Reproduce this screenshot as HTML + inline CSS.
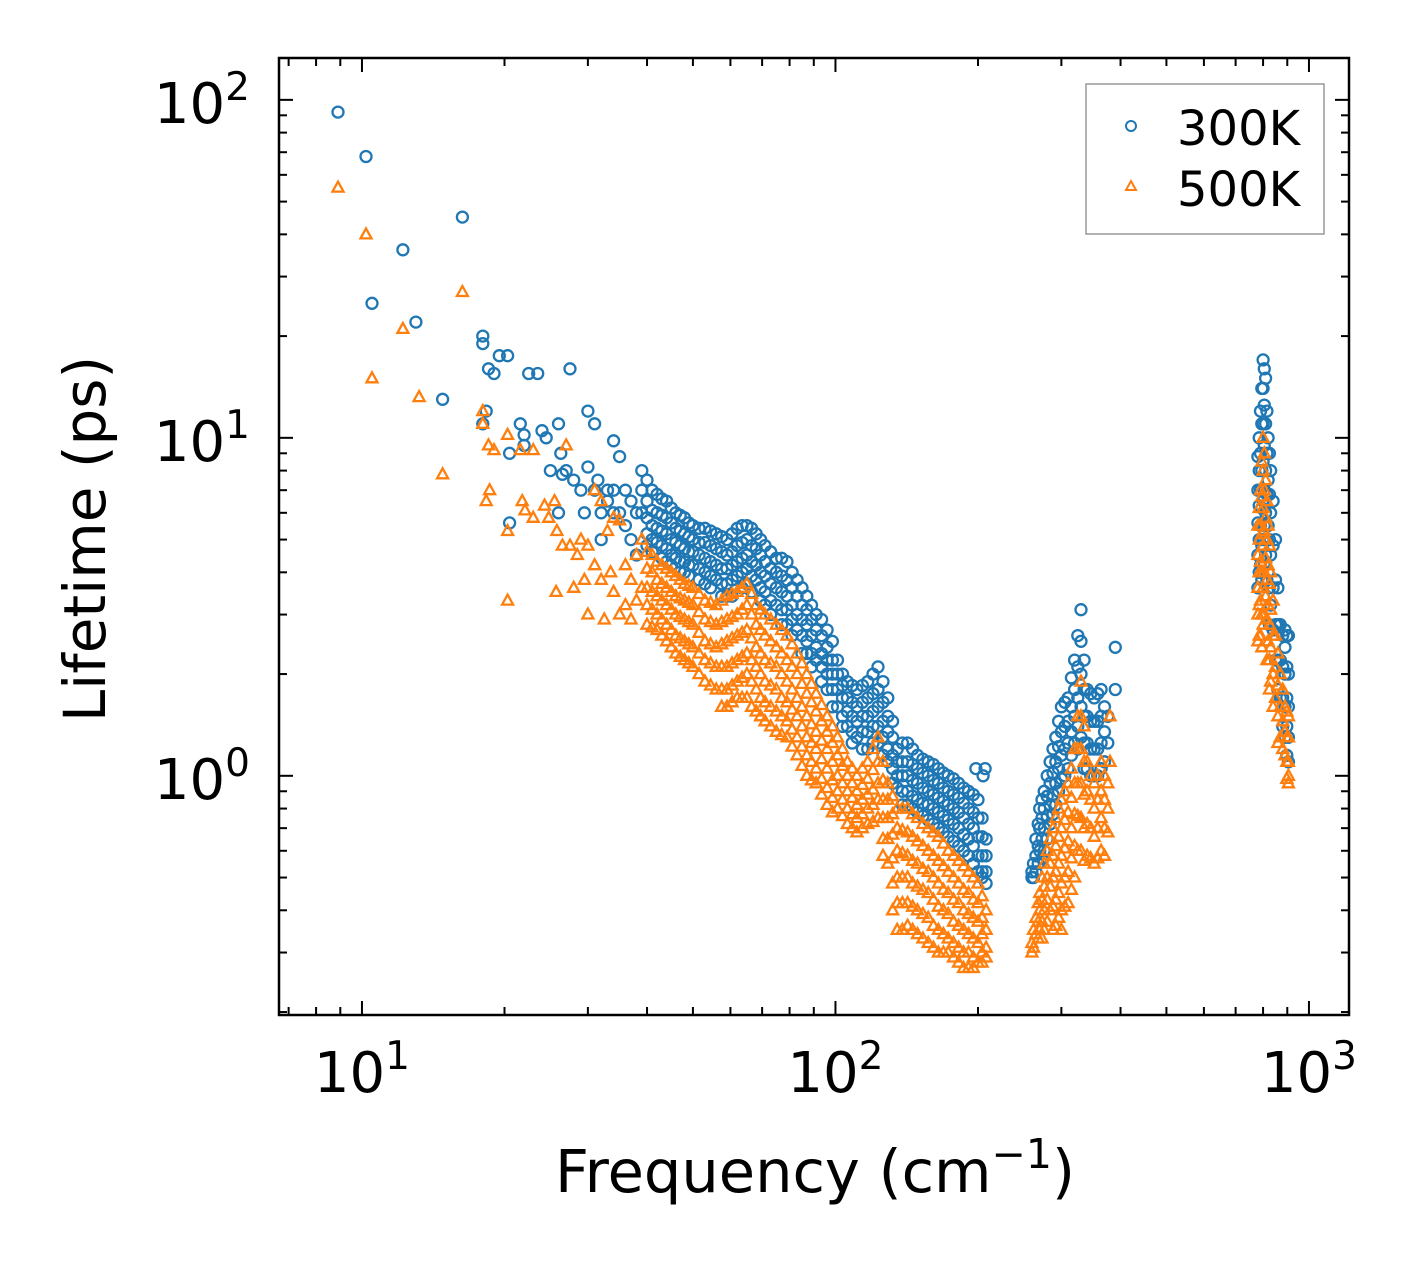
<!DOCTYPE html>
<html><head><meta charset="utf-8"><style>
html,body{margin:0;padding:0;background:#fff;}
svg{display:block;font-family:"DejaVu Sans","Liberation Sans",sans-serif;}
</style></head><body>
<svg id="chart" width="1417" height="1265" viewBox="0 0 1417 1265" xmlns="http://www.w3.org/2000/svg">
<rect x="0" y="0" width="1417" height="1265" fill="#fff"/>
<g id="marks"></g>
<g id="ticks"></g>
<rect x="279" y="58" width="1070" height="957" fill="none" stroke="#000" stroke-width="2.5"/>
<g id="labels" font-size="56" fill="#000"></g>
<text x="815" y="1192" font-size="59" text-anchor="middle">Frequency (cm<tspan dy="-24" font-size="41">−1</tspan><tspan dy="24">)</tspan></text>
<text transform="translate(105,539) rotate(-90)" font-size="58" text-anchor="middle">Lifetime (ps)</text>
<g>
<rect x="1086" y="84" width="238" height="150" fill="#fff" stroke="#999" stroke-width="1.5"/>
<circle cx="1131" cy="126" r="5" fill="none" stroke="#1f77b4" stroke-width="2"/>
<text x="1177" y="145" font-size="48">300K</text>
<path d="M1131,181 L1136,190 L1126,190 Z" fill="none" stroke="#ff7f0e" stroke-width="2"/>
<text x="1177" y="206" font-size="48">500K</text>
</g>
</svg>
<script>
// ---- data (frequency cm^-1, lifetimes ps) ----
const blueSparseFreq = [8.9,10.2,10.5,12.2,13,14.8,16.3,18,18,18.5,18,18.3,19,20.3,20.5,20.5,21.6,22,22.5,23.5,22,24,24.5,25,26,26.3,26.5,26,27.5,27,28,29,29.5,30,30,31,31,31.5,32,32,33,33,34,34,34,35,35,36,36,37,38,38,39,39,39,37,19.5,207,205,198];
const blueSparseLife = [92,68,25,36,22,13,45,20,19,16,11,12,15.5,17.5,9,5.6,11,10.2,15.5,15.5,9.5,10.5,10,8,11,9,7.8,6,16,8,7.5,7,6,12,8.2,11,7,7.5,6,5,7,6.5,7,6,9.8,8.8,6,7,5.5,6.5,6,4.5,8,7,6,5,17.5,1.05,1.0,1.05];
const blueColFreq = [40,42,44,46,48,50,53,56,59,62,65,68,71,75,79,83,87,91,96,101,106,111,117,123,129,135,142,149,157,165,173,182,191,200,208,
 260,265,270,276,284,292,300,310,320,330,340,352,364,376,390,
 780,790,800,810,820,830,850,870,890,905,
 41,43,45,47,49,51.5,54.5,57.5,60.5,63.5,66.5,69.5,73,77,81,85,89,93.5,98.5,103.5,108.5,114,120,126,132,138.5,145.5,153,161,169,177.5,186.5,195.5,204,
 262,268,273,280,288,296,305,315,325,335,346,358,370,
 785,795,805,815,825,840,860,880,898];
const blueColLife = [[7.5,6.5,5.8,5.2,4.8],[6.8,6,5.4,4.9],[6.5,5.8,5.2,4.7,4.3],[6,5.4,4.9,4.4],[5.8,5.2,4.7,4.3,4],[5.5,5,4.6,4.2],[5.4,4.9,4.4,4,3.7],[5.2,4.7,4.2,3.8],[5,4.5,4.1,3.7,3.4],[5.4,4.8,4.3,3.9],[5.5,5,4.5,4.1,3.7],[5.2,4.7,4.2,3.8],[4.8,4.3,3.9,3.5,3.2],[4.4,4,3.6,3.2],[4.3,3.8,3.4,3.1,2.8],[3.8,3.4,3,2.7],[3.4,3.1,2.8,2.5,2.3],[3,2.7,2.4,2.2],[2.7,2.4,2.2,2,1.8],[2.2,2,1.8,1.6],[1.9,1.7,1.55,1.4],[1.8,1.6,1.45,1.3],[1.9,1.7,1.5,1.35,1.2],[2.1,1.8,1.6,1.4,1.25],[1.7,1.5,1.35,1.2,1.1],[1.2,1.1,1.0,0.92],[1.25,1.1,1.0,0.9,0.82],[1.15,1.05,0.95,0.85,0.78],[1.1,1.0,0.9,0.82,0.74],[1.05,0.95,0.86,0.78,0.7],[1.0,0.9,0.82,0.74,0.66],[0.95,0.86,0.78,0.7,0.62],[0.9,0.8,0.72,0.65,0.58],[0.85,0.75,0.66,0.58,0.52],[0.65,0.58,0.52,0.48],
 [0.52,0.5],[0.65,0.58,0.52],[0.8,0.7,0.6],[0.9,0.8,0.7,0.6],[1.1,0.95,0.82,0.72],[1.3,1.1,0.95,0.82],[1.6,1.35,1.15,0.98],[1.7,1.45,1.25,1.05],[2.2,1.8,1.5,1.25],[3.1,2.5,2,1.6,1.3],[1.8,1.5,1.25,1.05],[1.7,1.45,1.2,1.0],[1.8,1.5,1.25,1.05],[1.5,1.25],[2.4,1.8],
 [8.8,7,5.6,4.5,3.6],[12,9,7,5.5,4.2],[17,14,11,8.5,6.5,5],[15,11,8,6,4.5],[10,7.5,5.5,4],[8,6,4.5,3.2],[5,3.8,2.8,2.2],[2.8,2.2,1.7],[2.7,2.4,2,1.6,1.3],[2.6,2,1.6,1.3,1.1],
 [7,6.1,5.5,5,4.6],[6.6,5.9,5.3,4.8,4.4],[6.2,5.6,5.0,4.5,4.2],[5.9,5.3,4.8,4.3,4.0],[5.6,5.1,4.6,4.2,3.9],[5.4,4.9,4.5,4.1,3.8],[5.3,4.8,4.3,3.9,3.6],[5.1,4.6,4.1,3.7,3.4],[5.2,4.6,4.2,3.8,3.4],[5.5,4.9,4.4,4.0,3.6],[5.4,4.8,4.3,3.9,3.5],[5.0,4.5,4.0,3.6,3.3],[4.6,4.1,3.7,3.3,3.0],[4.4,3.9,3.5,3.1,2.8],[4.0,3.6,3.2,2.9,2.6],[3.6,3.2,2.9,2.6,2.3],[3.2,2.9,2.6,2.3,2.1],[2.9,2.6,2.3,2.1,1.9],[2.5,2.2,2.0,1.8,1.6],[2.0,1.85,1.7,1.5,1.4],[1.85,1.65,1.5,1.35,1.25],[1.85,1.65,1.5,1.35,1.2],[2.0,1.75,1.55,1.4,1.25],[1.9,1.65,1.45,1.3,1.15],[1.45,1.3,1.15,1.05,0.95],[1.25,1.1,1.0,0.9,0.82],[1.2,1.08,0.97,0.87,0.8],[1.12,1.02,0.92,0.83,0.76],[1.08,0.97,0.88,0.8,0.72],[1.02,0.92,0.84,0.76,0.68],[0.98,0.88,0.8,0.72,0.64],[0.92,0.83,0.75,0.67,0.6],[0.88,0.78,0.7,0.62,0.55],[0.75,0.66,0.58,0.52,0.5],
 [0.55,0.5],[0.72,0.62,0.55],[0.85,0.75,0.65,0.57],[1.0,0.87,0.76,0.65],[1.2,1.02,0.88,0.77],[1.45,1.22,1.05,0.9],[1.65,1.4,1.2,1.0],[1.95,1.6,1.35,1.15],[2.6,2.1,1.7,1.4,1.2],[2.2,1.8,1.5,1.25,1.05],[1.75,1.45,1.2,1.0],[1.75,1.45,1.2,1.0],[1.6,1.35,1.1],
 [10,8,6.3,5,4],[14,11,8,6.2,4.8,3.8],[16,12.5,9.5,7,5.5,4.2],[12,9,6.8,5,3.8],[9,6.8,5,3.6,2.8],[6.5,4.8,3.6,2.7],[3.6,2.8,2.2,1.8],[2.6,2.1,1.7,1.4],[2.6,2.1,1.7,1.4,1.15]];
const orangeSparseFreq = [8.9,10.2,10.5,12.2,13.2,14.8,16.3,18,18,18.5,18.6,18.3,19,20.3,20.3,20.3,21.6,21.8,22.1,23,23,24.3,24.8,25.5,25.8,25.7,26.5,27,27.5,28,28.5,29,29.5,30,30,31,31,32,32,32.5,33,33.5,34,34,35,35,36,36,37,37,38,38,39,39];
const orangeSparseLife = [55,40,15,21,13.2,7.8,27,12,11,9.5,7,6.5,9.2,10.2,5.3,3.3,9.2,6.5,6.1,9.2,5.8,6.3,5.8,6.5,5.3,3.5,4.8,9.5,4.8,3.6,4.5,5,3.8,4.8,3,7,4.2,6.5,3.8,2.9,5.3,4,3.5,5.8,5.7,3,4.2,3.2,3.8,2.9,4.5,3.3,5,3.6];
const orangeColFreq = [40,42,44,46,48,50,53,56,59,62,65,68,71,75,79,83,87,91,96,101,106,111,117,123,129,135,142,149,157,165,173,182,191,200,208,
 260,265,270,276,284,292,300,310,320,330,340,352,364,376,380,
 780,790,800,810,820,830,850,870,890,905,
 41,43,45,47,49,51.5,54.5,57.5,60.5,63.5,66.5,69.5,73,77,81,85,89,93.5,98.5,103.5,108.5,114,120,126,132,138.5,145.5,153,161,169,177.5,186.5,195.5,204,
 262,268,273,280,288,296,305,315,325,335,346,358,370,
 785,795,805,815,825,840,860,880,898];
const orangeColLife = [[4.6,4.1,3.6,3.2,2.8],[4.3,3.8,3.4,3.0,2.7],[4.1,3.6,3.2,2.8,2.5],[3.9,3.4,3.0,2.6,2.3],[3.7,3.3,2.9,2.5,2.2],[3.6,3.2,2.8,2.4,2.1],[3.3,2.9,2.5,2.2,1.9],[3.2,2.8,2.4,2.1,1.8],[3.4,2.9,2.5,2.1,1.8,1.6],[3.5,3.0,2.6,2.2,1.9,1.7],[3.7,3.2,2.7,2.3,2.0,1.7],[3.2,2.8,2.4,2.1,1.8,1.55],[3.0,2.6,2.2,1.9,1.65,1.45],[2.8,2.4,2.1,1.8,1.55,1.35],[2.6,2.2,1.9,1.65,1.45,1.3],[2.3,2.0,1.7,1.5,1.3,1.15],[2.0,1.75,1.5,1.3,1.15,1.0],[1.75,1.55,1.35,1.2,1.05,0.95],[1.5,1.35,1.2,1.05,0.92,0.82],[1.3,1.15,1.0,0.9,0.8],[1.1,1.0,0.9,0.8,0.72],[1.0,0.9,0.82,0.75,0.68],[1.1,0.98,0.88,0.8,0.72],[1.3,1.1,0.95,0.85,0.75],[0.95,0.85,0.75,0.65,0.55],[0.8,0.7,0.6,0.5,0.42,0.35],[0.8,0.68,0.58,0.5,0.42,0.36],[0.75,0.64,0.55,0.47,0.4,0.34],[0.7,0.6,0.52,0.45,0.38,0.32],[0.66,0.56,0.48,0.41,0.35,0.3],[0.6,0.52,0.45,0.39,0.33,0.3],[0.56,0.48,0.42,0.36,0.31,0.28],[0.52,0.45,0.39,0.34,0.3,0.27],[0.48,0.42,0.37,0.32,0.28],[0.4,0.35,0.31,0.29],
 [0.32,0.3],[0.38,0.34],[0.45,0.4,0.35],[0.55,0.47,0.4,0.35],[0.65,0.55,0.47,0.4],[0.75,0.62,0.52,0.43,0.36],[0.85,0.7,0.58,0.48,0.4,0.35],[0.95,0.78,0.64,0.52,0.42],[1.2,0.95,0.77,0.62,0.5],[1.9,1.5,1.2,0.95,0.75,0.6],[1.1,0.9,0.72,0.58],[0.95,0.8,0.66,0.55],[1.1,0.9,0.75,0.6],[0.95,0.8,0.68],[1.5,1.1],
 [5.5,4.5,3.6,3.0,2.5],[7,5.5,4.3,3.3,2.6],[10,8,6.2,4.8,3.6,2.8],[7.5,5.8,4.4,3.4],[5.5,4.2,3.2,2.5],[4,3.1,2.4,1.9],[2.6,2.1,1.7],[2.0,1.6,1.3],[1.6,1.35,1.15],[1.5,1.3,1.1,1.0,0.95],
 [4.5,4.0,3.5,3.1,2.75],[4.2,3.7,3.3,2.9,2.6],[4.0,3.5,3.1,2.7,2.4],[3.8,3.35,2.95,2.55,2.25],[3.65,3.25,2.85,2.45,2.15],[3.45,3.05,2.65,2.3,2.0],[3.25,2.85,2.45,2.15,1.85],[3.3,2.85,2.45,2.1,1.8,1.6],[3.45,2.95,2.55,2.15,1.85,1.65],[3.6,3.1,2.65,2.25,1.95,1.7],[3.45,3.0,2.55,2.2,1.9,1.6],[3.1,2.7,2.3,2.0,1.7,1.5],[2.9,2.5,2.15,1.85,1.6,1.4],[2.7,2.3,2.0,1.7,1.5,1.32],[2.45,2.1,1.8,1.57,1.37,1.22],[2.15,1.87,1.6,1.4,1.22,1.07],[1.87,1.65,1.42,1.25,1.1,0.97],[1.62,1.45,1.27,1.12,0.98,0.88],[1.4,1.25,1.1,0.97,0.86,0.78],[1.2,1.07,0.95,0.85,0.76],[1.05,0.95,0.86,0.77,0.7],[1.05,0.94,0.85,0.77,0.7],[1.2,1.04,0.91,0.82,0.73],[1.1,0.97,0.85,0.75,0.65,0.58],[0.87,0.77,0.67,0.57,0.48,0.4],[0.8,0.69,0.59,0.5,0.42,0.35],[0.77,0.66,0.56,0.48,0.41,0.35],[0.72,0.62,0.53,0.46,0.39,0.33],[0.68,0.58,0.5,0.43,0.36,0.31],[0.63,0.54,0.46,0.4,0.34,0.3],[0.58,0.5,0.43,0.37,0.32,0.29],[0.54,0.46,0.4,0.35,0.3,0.27],[0.5,0.43,0.38,0.33,0.29,0.27],[0.44,0.38,0.34,0.3,0.28],
 [0.35,0.31],[0.42,0.37,0.33],[0.5,0.43,0.37,0.33],[0.6,0.5,0.43,0.37],[0.7,0.58,0.5,0.41,0.35],[0.8,0.66,0.55,0.45,0.38],[0.9,0.74,0.61,0.5,0.41],[1.05,0.86,0.7,0.57,0.46],[1.5,1.2,0.95,0.76,0.6],[1.4,1.1,0.88,0.7,0.56],[1.0,0.85,0.7,0.57],[1.0,0.85,0.7,0.57],[1.0,0.85,0.7,0.58],
 [6.2,5,4,3.2,2.6],[8.5,6.7,5.2,4,3,2.4],[9,7,5.3,4,3],[6.5,5,3.8,2.9,2.2],[4.8,3.7,2.8,2.2,1.8],[3.3,2.6,2,1.6],[2.3,1.85,1.5,1.25],[1.8,1.45,1.2],[1.55,1.3,1.1,0.98]];
const xTickValues = [10,100,1000];
const yTickValues = [1,10,100];
const xTickExp = ["1","2","3"];
const yTickExp = ["0","1","2"];

// ---- axes ----
const X0=279,X1=1349,Y0=58,Y1=1015;
const xMinLog=Math.log10(6.68), xMaxLog=Math.log10(1215);
const yMinLog=Math.log10(0.196), yMaxLog=Math.log10(133);
function xs(v){return X0+(Math.log10(v)-xMinLog)/(xMaxLog-xMinLog)*(X1-X0);}
function ys(v){return Y1-(Math.log10(v)-yMinLog)/(yMaxLog-yMinLog)*(Y1-Y0);}
const NS="http://www.w3.org/2000/svg";
const marks=document.getElementById('marks');
function addCircle(f,l){
  const c=document.createElementNS(NS,'circle');
  c.setAttribute('cx',xs(f).toFixed(1));c.setAttribute('cy',ys(l).toFixed(1));
  c.setAttribute('r','5.5');c.setAttribute('fill','none');c.setAttribute('stroke','#1f77b4');c.setAttribute('stroke-width','2.3');
  
  
  marks.appendChild(c);
}
function addTri(f,l){
  const x=xs(f),y=ys(l);
  const p=document.createElementNS(NS,'path');
  p.setAttribute('d',`M${x.toFixed(1)},${(y-6).toFixed(1)} L${(x+5.5).toFixed(1)},${(y+4).toFixed(1)} L${(x-5.5).toFixed(1)},${(y+4).toFixed(1)} Z`);
  p.setAttribute('fill','none');p.setAttribute('stroke','#ff7f0e');p.setAttribute('stroke-width','2.3');
  
  
  marks.appendChild(p);
}
blueSparseFreq.forEach((f,i)=>addCircle(f,blueSparseLife[i]));
blueColFreq.forEach((f,i)=>blueColLife[i].forEach(l=>addCircle(f,l)));
orangeSparseFreq.forEach((f,i)=>addTri(f,orangeSparseLife[i]));
orangeColFreq.forEach((f,i)=>orangeColLife[i].forEach(l=>addTri(f,l)));

// ---- ticks ----
const ticks=document.getElementById('ticks');
function line(x1,y1,x2,y2){
  const l=document.createElementNS(NS,'line');
  l.setAttribute('x1',x1);l.setAttribute('y1',y1);l.setAttribute('x2',x2);l.setAttribute('y2',y2);
  l.setAttribute('stroke','#000');l.setAttribute('stroke-width','2');
  
  
  ticks.appendChild(l);
}
for(let d=1;d<=1000;d*=10){for(let m=1;m<=9;m++){const v=d*m;const x=xs(v);if(x<X0+1||x>X1-1)continue;const L=m===1?14:8;line(x,Y1,x,Y1-L);line(x,Y0,x,Y0+L);}}
for(let d=0.1;d<=100;d*=10){for(let m=1;m<=9;m++){const v=d*m;const y=ys(v);if(y<Y0+1||y>Y1-1)continue;const L=m===1?14:8;line(X0,y,X0+L,y);line(X1,y,X1-L,y);}}
const labels=document.getElementById('labels');
xTickValues.forEach((v,i)=>{
  const t=document.createElementNS(NS,'text');
  t.setAttribute('x',xs(v));t.setAttribute('y',1092);t.setAttribute('text-anchor','middle');
  t.innerHTML=`10<tspan dy="-23" font-size="39">${xTickExp[i]}</tspan>`;
  
  
  labels.appendChild(t);
});
yTickValues.forEach((v,i)=>{
  const t=document.createElementNS(NS,'text');
  t.setAttribute('x',250);t.setAttribute('y',ys(v)+23);t.setAttribute('text-anchor','end');
  t.innerHTML=`10<tspan dy="-23" font-size="39">${yTickExp[i]}</tspan>`;
  
  
  labels.appendChild(t);
});
</script>
</body></html>
